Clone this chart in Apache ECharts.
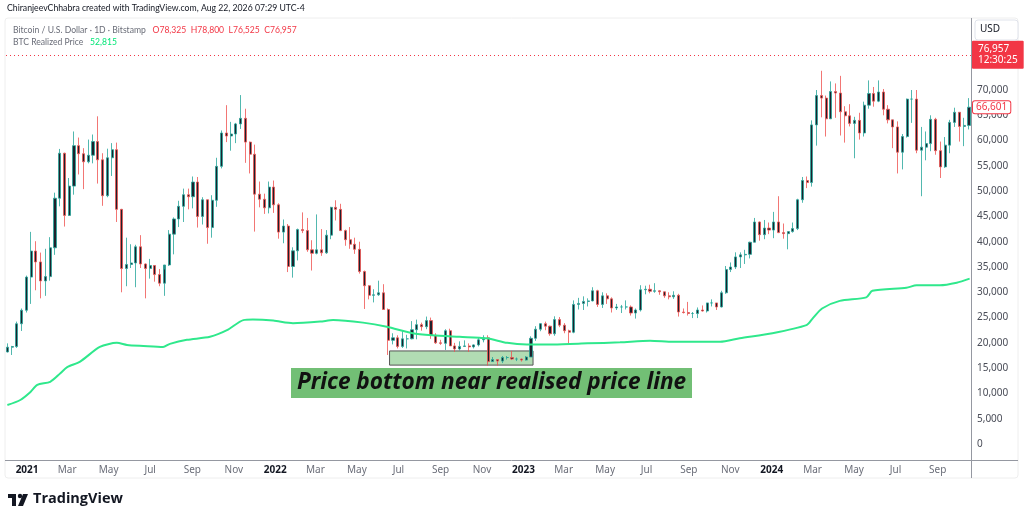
<!DOCTYPE html>
<html>
<head>
<meta charset="utf-8">
<script src="https://cdn.jsdelivr.net/npm/echarts@6/dist/echarts.min.js"></script>
<style>
html,body{margin:0;padding:0;background:#fff;}
#chart{width:1024px;height:522px;}
</style>
</head>
<body>
<div id="chart"></div>
<script>
// ---- DATA (weekly candles: [open, high, low, close]) ----
const firstWeekStart = '2020-11-30';
const btc2020 = [[18200,19900,18100,19150],[19150,19400,17600,19270],[19270,24200,19000,23780],[23780,26800,22350,26450],[26450,33300,26000,33000]];
const btc2021 = [
[33000,41950,27700,38150],[38150,40100,30400,36000],[36000,37850,28800,32250],[32250,38600,29300,33100],
[33100,40900,32300,38800],[38800,49700,37400,48600],[48600,58350,47000,57500],[57500,57600,43000,45200],
[45200,52600,46000,51000],[51000,61800,49300,59000],[59000,60600,53300,57400],[57400,58500,50400,55800],[55800,60200,55500,57100],
[57100,61200,55500,59800],[59800,64800,51500,56200],[56200,57500,47100,49100],[49100,58400,48800,56600],
[56600,59500,53000,58200],[58200,59600,43900,46400],[46400,46500,30000,34700],[34700,40800,31200,35500],[35500,39500,34800,35800],
[35800,39400,31000,39000],[39000,41300,34800,35600],[35600,35700,28800,34700],[34700,36600,32700,35300],
[35300,35300,32100,33500],[33500,34600,31200,31800],[31800,34500,29300,35400],[35400,42300,35200,41500],
[41500,44800,37500,44500],[44500,48100,42900,47000],[47000,50500,43900,49300],[49300,50500,46400,48900],[48900,52900,46600,51800],
[51800,52800,42800,45000],[45000,48800,43400,48300],[48300,48300,39600,42800],[42800,49200,40800,48200],
[48200,56600,46900,54900],[54900,62000,54500,61500],[61500,67000,59700,60900],[60900,63700,58000,61300],
[61300,63500,59500,63300],[63300,69000,62300,64400],[64400,66300,55600,59700],[59700,59800,53500,57300],[57300,59200,42000,49400],
[49400,51900,46800,48400],[48400,49500,45500,46700],[46700,51900,45600,50800],[50800,52100,45700,47300]];
const btc2022 = [
[47300,47600,40600,41900],[41900,44400,39700,43100],[43100,43500,34000,35100],[35100,38900,32900,38200],[38200,42600,36300,42400],
[42400,45800,41700,42200],[42200,44700,38000,38400],[38400,40300,34300,37700],[37700,45400,37500,38400],
[38400,42500,37200,37800],[37800,42300,37600,41300],[41300,46900,40500,46800],[46800,48200,44200,46400],
[46400,47500,42100,42200],[42200,42400,39200,40400],[40400,42900,38600,39500],[39500,40800,37600,38500],
[38500,40000,33700,34100],[34100,34300,26700,31300],[31300,31400,28600,29400],[29400,30600,28000,29500],[29500,32300,29300,29900],
[29900,31600,26500,26600],[26600,26800,17600,20500],[20500,21900,19700,21000],[21000,21500,18900,19300],
[19300,22400,19000,20800],[20800,21600,18900,20800],[20800,24300,20700,22600],[22600,24600,20700,23600],
[23600,24000,22400,23200],[23200,25200,22700,24400],[24400,25000,20800,21500],[21500,21900,19800,20000],[20000,20600,19600,19900],
[19900,22700,18600,22400],[22400,22800,19400,19400],[19400,20000,18200,18800],[18800,20300,18500,19300],
[19300,20500,19300,19400],[19400,19900,18200,19200],[19200,19700,18900,19600],[19600,21000,19300,20600],[20600,21500,20100,21000],
[21000,21500,15500,16300],[16300,17200,16300,16700],[16700,16800,15500,16400],[16400,17400,16000,17100],
[17100,17400,16700,17100],[17100,18400,16600,16800],[16800,17100,16400,16800],[16800,16900,16300,16600]];
const btc2023 = [
[16600,17400,16500,17200],[17200,21300,17200,20900],[20900,23300,20400,22700],[22700,23900,22300,23800],[23800,24200,22500,23300],
[23300,23400,21400,21800],[21800,25250,21400,24600],[24600,25100,23100,23500],[23500,23900,21900,22400],
[22400,22600,19600,22100],[22100,28400,21900,27600],[27600,28900,26600,27800],[27800,29200,26500,28200],
[28200,28800,27200,28300],[28300,31000,28200,30300],[30300,30500,27100,27600],[27600,30000,26900,29300],
[29300,29800,27700,28700],[28700,29000,26000,26900],[26900,27700,26500,27100],[27100,27500,25900,27100],[27100,28400,26600,27100],
[27100,27400,25400,25900],[25900,26800,24800,26500],[26500,31400,26200,30500],[30500,31300,29600,30600],
[30600,31500,29800,30200],[30200,31800,29900,30300],[30300,30400,29500,30100],[30100,30100,28900,29300],[29300,30000,28600,29100],
[29100,30200,28700,29400],[29400,29700,25200,26100],[26100,26800,25800,26000],[26000,28100,25400,25800],
[25800,26100,24900,25800],[25800,27000,24900,26500],[26500,27400,26200,26300],[26300,27500,26000,27900],
[27900,28600,27200,27900],[27900,27900,26500,27100],[27100,30300,27000,29900],[29900,35200,29700,34500],[34500,35900,34000,35000],
[35000,37900,34600,37000],[37000,37900,34800,37400],[37400,38400,35600,37500],[37500,40000,36700,39900],
[39900,44700,39900,43900],[43900,44000,40200,41400],[41400,44300,40500,42700],[42700,43800,41500,42300]];
const btc2024 = [
[42300,45900,40700,43900],[43900,49000,41700,41800],[41800,43600,40600,41600],[41600,42000,38500,42000],[42000,43800,41800,42600],
[42600,48500,42300,48300],[48300,52800,47700,52100],[52100,52900,50600,51700],[51700,64000,50900,63100],
[63100,70000,59000,68900],[68900,73800,64600,68400],[68400,68900,60800,64300],[64300,71700,64300,69700],
[69700,71300,64500,69400],[69400,72800,61000,65700],[65700,66800,59600,64900],[64900,67200,62800,63400],[63400,64700,56500,64000],
[64000,65500,60200,61500],[61500,67700,60800,67000],[67000,71900,66300,69300],[69300,70600,66700,67800],
[67800,71900,67600,69600],[69600,70200,65000,66200],[66200,67000,63400,64100],[64100,64100,58500,62700],
[62700,63800,53500,57700],[57700,61300,54300,60800],[60800,68300,60600,68200],[68200,70000,63500,68200],[68200,70000,57500,58100],
[58100,62700,49000,58700],[58700,61800,56100,59400],[59400,65000,57900,64200],[64200,64500,57200,58000],
[58000,59800,52600,54800],[54800,60700,54600,59100],[59100,64100,57500,63600],[63600,66500,62700,65600],[65600,65600,59800,62800],
[62800,64500,58900,63000],[63000,68400,62200,66601]];

// BTC realized price
const realizedPrice = [
['2020-12-03',7700],['2020-12-22',8700],['2021-01-06',10300],['2021-01-16',11700],['2021-02-04',12300],['2021-02-19',14000],
['2021-03-01',15200],['2021-03-20',16300],['2021-04-18',19200],['2021-05-13',20000],['2021-05-28',19600],['2021-06-21',19400],
['2021-07-20',19200],['2021-07-30',19800],['2021-08-24',20600],['2021-09-27',21200],['2021-10-22',22500],['2021-11-15',24500],
['2021-11-29',24600],['2021-12-29',24400],['2022-01-27',23900],['2022-03-08',24200],['2022-03-27',24500],['2022-05-10',24000],
['2022-06-14',23200],['2022-07-22',21900],['2022-08-20',21500],['2022-09-29',21200],['2022-11-08',20900],['2022-12-08',20000],
['2023-01-06',19700],['2023-02-14',19700],['2023-04-05',19900],['2023-05-23',20100],['2023-07-06',20400],['2023-08-09',20200],
['2023-10-17',20200],['2023-11-15',20900],['2024-01-02',21900],['2024-02-21',23500],['2024-03-01',24800],['2024-03-15',26800],
['2024-04-10',28300],['2024-05-19',29000],['2024-05-28',30300],['2024-07-17',30900],['2024-08-01',31400],['2024-09-04',31400],
['2024-09-29',31900],['2024-10-18',32700]];

// axis ticks
const xTickDates = ['2021-01-01','2021-03-01','2021-05-01','2021-07-01','2021-09-01','2021-11-01',
'2022-01-01','2022-03-01','2022-05-01','2022-07-01','2022-09-01','2022-11-01',
'2023-01-01','2023-03-01','2023-05-01','2023-07-01','2023-09-01','2023-11-01',
'2024-01-01','2024-03-01','2024-05-01','2024-07-01','2024-09-01'];
const xTickLabels = ['2021','Mar','May','Jul','Sep','Nov','2022','Mar','May','Jul','Sep','Nov',
'2023','Mar','May','Jul','Sep','Nov','2024','Mar','May','Jul','Sep'];
const yTicks = [0,5000,10000,15000,20000,25000,30000,35000,40000,45000,50000,55000,60000,65000,70000];

// header / price labels
const livePrice = 76957;
const liveOHLC = {o:78325,h:78800,l:76525,c:76957};
const realizedHeader = 52815;
const countdown = '12:30:25';
const lastClose = 66601;

// annotation box (date/price corners)
const bottomBox = {from:'2022-06-18', to:'2023-01-15', top:18400, bottom:15600};

// ---- build ----
const DAY = 86400000;
function ts(s){ const p = s.split('-').map(Number); return Date.UTC(p[0], p[1]-1, p[2]); }
const fmt = v => v.toLocaleString('en-US');
const allWeeks = btc2020.concat(btc2021, btc2022, btc2023, btc2024);
const t0 = ts(firstWeekStart);
const candleData = allWeeks.map((r, i) => [t0 + (i*7 + 3)*DAY, r[0], r[3], r[2], r[1]]);
const realizedData = realizedPrice.map(p => [ts(p[0]), p[1]]);
const xTickTs = xTickDates.map(ts);

const chart = echarts.init(document.getElementById('chart'), null, {renderer:'canvas'});
const FONT = 'Noto Sans';
const option = {
  animation:false,
  backgroundColor:'#ffffff',
  grid:{left:6, right:53, top:18, bottom:62},
  xAxis:{
    type:'value',
    min: ts('2020-12-01'),
    max: ts('2024-10-20'),
    axisLine:{show:false}, axisTick:{show:false}, splitLine:{show:false},
    axisLabel:{
      customValues: xTickTs,
      margin:5,
      fontSize:10, fontFamily:FONT, color:'#6a6d78',
      formatter:function(v){
        const i = xTickTs.indexOf(v);
        const lab = i >= 0 ? xTickLabels[i] : '';
        return /^\d{4}$/.test(lab) ? '{y|' + lab + '}' : lab;
      },
      rich:{y:{fontSize:10, fontFamily:FONT, color:'#131722', fontWeight:'bold'}}
    }
  },
  yAxis:{
    type:'value', position:'right',
    min:-3164, max:84240,
    axisLine:{show:false}, axisTick:{show:false}, splitLine:{show:false},
    axisLabel:{
      customValues: yTicks,
      margin:6, fontSize:10, fontFamily:FONT, color:'#4a4d58',
      formatter: v => fmt(v)
    }
  },
  series:[
    {
      name:'BTCUSD', type:'candlestick', data:candleData, barWidth:2.6,
      itemStyle:{color:'#1e222d', color0:'#1e222d', borderColor:'#26a69a', borderColor0:'#ef5350', borderWidth:0.8},
      markLine:{
        symbol:'none', silent:true, animation:false,
        data:[
          {yAxis:livePrice, lineStyle:{type:[1,3], color:'#f23645', width:1},
           label:{show:true, position:'end', distance:1, formatter:'{p|'+fmt(livePrice)+'}\n{t|'+countdown+'}',
                  backgroundColor:'#f23645', padding:[3,6,3,6], borderRadius:1,
                  rich:{p:{color:'#fff', fontSize:10, fontFamily:FONT, lineHeight:11},
                        t:{color:'#fff', fontSize:10, fontFamily:FONT, lineHeight:11}}}},
          {yAxis:lastClose, lineStyle:{color:'rgba(0,0,0,0)', width:0},
           label:{show:true, position:'end', distance:2, formatter:fmt(lastClose),
                  color:'#f23645', fontSize:10, fontFamily:FONT, backgroundColor:'#fff',
                  borderColor:'#f23645', borderWidth:1, padding:[1,3,1,3], borderRadius:2}}
        ]
      },
      markArea:{
        silent:true,
        itemStyle:{color:'rgba(129,199,132,0.62)', borderColor:'#555', borderWidth:1},
        data:[[{xAxis:ts(bottomBox.from), yAxis:bottomBox.top},{xAxis:ts(bottomBox.to), yAxis:bottomBox.bottom}]]
      },
      z:3
    },
    {
      name:'BTC Realized Price', type:'line', data:realizedData, showSymbol:false, smooth:0.25,
      lineStyle:{color:'#2fe88c', width:2}, z:4
    }
  ],
  graphic:[
    {type:'rect', shape:{x:5, y:18, width:1013, height:460, r:3}, style:{fill:null, stroke:'#eeeeee', lineWidth:1}, silent:true, z:0},
    {type:'line', shape:{x1:5, y1:460.5, x2:1018, y2:460.5}, style:{stroke:'#9598a1', lineWidth:1}, silent:true, z:10},
    {type:'line', shape:{x1:971.5, y1:18, x2:971.5, y2:478}, style:{stroke:'#9598a1', lineWidth:1}, silent:true, z:10},
    {type:'text', left:7, top:4, style:{text:'ChiranjeevChhabra created with TradingView.com, Aug 22, 2026 07:29 UTC-4', fontSize:8.7, fontFamily:'Lato', fill:'#131722'}, z:10},
    {type:'text', left:13, top:24, style:{
      text:'{g|Bitcoin / U.S. Dollar · 1D · Bitstamp}  {r|O'+fmt(liveOHLC.o)+'  H'+fmt(liveOHLC.h)+'  L'+fmt(liveOHLC.l)+'  C'+fmt(liveOHLC.c)+'}\n{g|BTC Realized Price}  {v|'+fmt(realizedHeader)+'}',
      rich:{g:{fontSize:8.6, fontFamily:'Lato', fill:'#6a6d78', lineHeight:12},
            r:{fontSize:8.6, fontFamily:'Lato', fill:'#f23645', lineHeight:12},
            v:{fontSize:8.6, fontFamily:'Lato', fill:'#00e676', lineHeight:12}}}, z:10},
    {type:'rect', shape:{x:975, y:20, width:43, height:20, r:3}, style:{fill:'#fff', stroke:'#e0e3eb', lineWidth:1}, z:10},
    {type:'text', left:980, top:24, style:{text:'USD', fontSize:10, fontFamily:FONT, fill:'#131722'}, z:11},
    {type:'rect', shape:{x:291, y:368, width:401, height:30}, style:{fill:'#72bf75'}, z:20},
    {type:'text', x:491.5, y:383, style:{text:'Price bottom near realised price line', fontSize:22.6, fontStyle:'italic', fontWeight:'bold',
      fontFamily:'Noto Sans', fill:'#111', align:'center', verticalAlign:'middle'}, z:21},
    {type:'rect', shape:{x:8, y:494, width:8, height:4}, style:{fill:'#131722'}, z:10},
    {type:'rect', shape:{x:12, y:494, width:4, height:12}, style:{fill:'#131722'}, z:10},
    {type:'circle', shape:{cx:20, cy:496, r:2.2}, style:{fill:'#131722'}, z:10},
    {type:'polygon', shape:{points:[[23,494],[28,494],[23,506],[18,506]]}, style:{fill:'#131722'}, z:10},
    {type:'text', left:33, top:491, style:{text:'TradingView', fontSize:14.5, fontWeight:'bold', fontFamily:'Open Sans', fill:'#131722'}, z:10}
  ]
};
chart.setOption(option);
</script>
</body>
</html>
